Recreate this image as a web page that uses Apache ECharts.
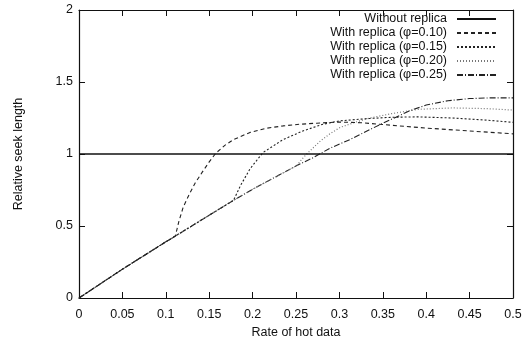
<!DOCTYPE html>
<html><head><meta charset="utf-8">
<script src="https://cdn.jsdelivr.net/npm/echarts@6/dist/echarts.min.js"></script>
<style>html,body{margin:0;padding:0;background:#fff}#c{width:532px;height:344px}</style>
</head><body><div id="c"></div>
<script>
const xTicks = [0, 0.05, 0.1, 0.15, 0.2, 0.25, 0.3, 0.35, 0.4, 0.45, 0.5];
const yTicks = [0, 0.5, 1, 1.5, 2];

const noRepX = [0, 0.5];
const noRepY = [1, 1];

const p10X = [0, 0.05, 0.1, 0.111, 0.115, 0.12, 0.127, 0.134, 0.142, 0.15, 0.1575, 0.168, 0.178, 0.197, 0.215, 0.235, 0.255, 0.274, 0.3, 0.325, 0.35, 0.375, 0.4, 0.45, 0.5];
const p10Y = [0, 0.2, 0.39, 0.43, 0.53, 0.63, 0.72, 0.8, 0.874, 0.945, 1.005, 1.06, 1.1, 1.15, 1.178, 1.195, 1.207, 1.214, 1.222, 1.217, 1.205, 1.192, 1.18, 1.16, 1.14];

const p15X = [0, 0.05, 0.1, 0.111, 0.15, 0.178, 0.186, 0.197, 0.212, 0.235, 0.258, 0.28, 0.3, 0.33, 0.36, 0.39, 0.43, 0.47, 0.5];
const p15Y = [0, 0.2, 0.39, 0.43, 0.575, 0.678, 0.78, 0.897, 1.01, 1.10, 1.16, 1.205, 1.23, 1.245, 1.255, 1.258, 1.25, 1.235, 1.22];

const p20X = [0, 0.05, 0.1, 0.111, 0.15, 0.178, 0.2, 0.251, 0.257, 0.264, 0.278, 0.289, 0.301, 0.318, 0.335, 0.36, 0.39, 0.43, 0.47, 0.5];
const p20Y = [0, 0.2, 0.39, 0.43, 0.575, 0.678, 0.755, 0.92, 0.965, 1.01, 1.09, 1.14, 1.185, 1.22, 1.25, 1.28, 1.31, 1.32, 1.315, 1.305];

const p25X = [0, 0.05, 0.1, 0.111, 0.15, 0.178, 0.2, 0.251, 0.27, 0.289, 0.312, 0.347, 0.381, 0.4, 0.425, 0.45, 0.475, 0.5];
const p25Y = [0, 0.2, 0.39, 0.43, 0.575, 0.678, 0.755, 0.92, 0.975, 1.04, 1.10, 1.205, 1.30, 1.34, 1.37, 1.385, 1.39, 1.39];

const names = ['Without replica', 'With replica (φ=0.10)', 'With replica (φ=0.15)', 'With replica (φ=0.20)', 'With replica (φ=0.25)'];
const seriesXY = [[noRepX, noRepY], [p10X, p10Y], [p15X, p15Y], [p20X, p20Y], [p25X, p25Y]];
const styles = [
  {type: 'solid', color: '#111', width: 1.3},
  {type: [4, 3], color: '#222', width: 1.1},
  {type: [2, 2], color: '#222', width: 1.1},
  {type: [1, 2], color: '#777', width: 1.2},
  {type: [6, 2, 1, 2], color: '#222', width: 1.1}
];

const FONT = '"Liberation Sans", Arial, sans-serif';
const chart = echarts.init(document.getElementById('c'), null, {renderer: 'canvas'});

const tickAxisX = (pos, show) => ({
  type: 'value', min: 0, max: 0.5, interval: 0.05, position: pos,
  axisLine: {show: true, onZero: false, lineStyle: {color: '#111', width: 1.2}},
  axisTick: {show: true, inside: true, length: 6, lineStyle: {color: '#111'}},
  axisLabel: {show: show, color: '#111', fontFamily: FONT, fontSize: 12.5, margin: 10,
    formatter: v => { const t = xTicks.find(x => Math.abs(x - v) < 1e-9); return t === undefined ? '' : String(t); }},
  splitLine: {show: false},
  name: show ? 'Rate of hot data' : '', nameLocation: 'middle', nameGap: 28,
  nameTextStyle: {color: '#111', fontFamily: FONT, fontSize: 12.5}
});
const tickAxisY = (pos, show) => ({
  type: 'value', min: 0, max: 2, interval: 0.5, position: pos,
  axisLine: {show: true, onZero: false, lineStyle: {color: '#111', width: 1.2}},
  axisTick: {show: true, inside: true, length: 6, lineStyle: {color: '#111'}},
  axisLabel: {show: show, color: '#111', fontFamily: FONT, fontSize: 12.5, margin: 6,
    formatter: v => { const t = yTicks.find(y => Math.abs(y - v) < 1e-9); return t === undefined ? '' : String(t); }},
  splitLine: {show: false},
  name: show ? 'Relative seek length' : '', nameLocation: 'middle', nameGap: 54, nameRotate: 90,
  nameTextStyle: {color: '#111', fontFamily: FONT, fontSize: 12.5}
});

chart.setOption({
  animation: false,
  backgroundColor: '#fff',
  grid: {left: 79, right: 19, top: 10, bottom: 44},
  xAxis: [tickAxisX('bottom', true), tickAxisX('top', false)],
  yAxis: [tickAxisY('left', true), tickAxisY('right', false)],
  legend: {
    orient: 'vertical', right: 35, top: 12, align: 'right', padding: 0,
    itemWidth: 39, itemHeight: 10, itemGap: 0,
    itemStyle: {opacity: 0},
    textStyle: {color: '#111', fontFamily: FONT, fontSize: 12.5, lineHeight: 14, padding: [0, 5, 0, 0]},
    data: names
  },
  series: names.map((n, i) => ({
    name: n, type: 'line', xAxisIndex: 0, yAxisIndex: 0,
    showSymbol: false, symbol: 'none', smooth: false,
    lineStyle: styles[i], itemStyle: {color: styles[i].color},
    data: seriesXY[i][0].map((x, k) => [x, seriesXY[i][1][k]]),
    z: 10 - i
  }))
});
</script></body></html>
